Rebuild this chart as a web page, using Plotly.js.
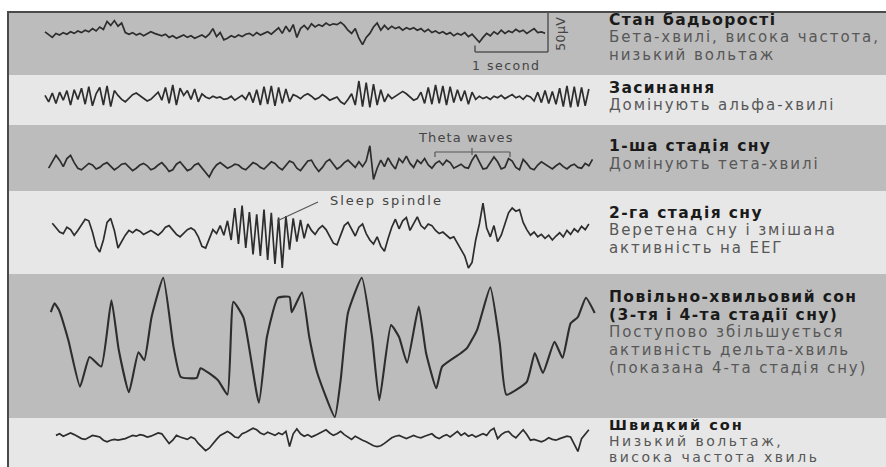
<!DOCTYPE html>
<html><head><meta charset="utf-8">
<script src="https://cdn.plot.ly/plotly-3.0.1.min.js"></script>
<style>html,body{margin:0;padding:0;background:#fff;overflow:hidden}#chart{width:886px;height:467px}</style>
</head><body><div id="chart"></div>
<script>
// ---------------- DATA ----------------
const stageTitles = [
  ["Стан бадьорості"],
  ["Засинання"],
  ["1-ша стадія сну"],
  ["2-га стадія сну"],
  ["Повільно-хвильовий сон", "(3-тя і 4-та стадії сну)"],
  ["Швидкий сон"]
];
const stageNotes = [
  ["Бета-хвилі, висока частота,", "низький вольтаж"],
  ["Домінують альфа-хвилі"],
  ["Домінують тета-хвилі"],
  ["Веретена сну і змішана", "активність на ЕЕГ"],
  ["Поступово збільшується", "активність дельта-хвиль", "(показана 4-та стадія сну)"],
  ["Низький вольтаж,", "висока частота хвиль"]
];
const thetaLabel = "Theta waves";
const spindleLabel = "Sleep spindle";
const scaleTimeLabel = "1 second";
const scaleAmpLabel = "50µV";
const scaleTime = 1;     // s
const scaleAmp = 50;     // µV

const sampleStep = 0.05; // s
const traceStart = [0, 0, 0.05, 0.1, null, 0.15]; // s

// wake (µV)
const wakeUv = [4,1,-3,2,0,3,1,4,2,5,
3,6,4,8,5,10,7,17,12,18,
11,15,3,1,3,0,2,-1,1,4,
2,0,-1,1,-3,-1,-4,-2,0,-3,
-1,-4,-2,0,-3,1,8,-2,3,-6,
-4,-1,-3,0,-2,1,2,-1,3,0,
2,4,1,5,9,2,11,4,13,-3,
8,12,7,14,10,13,11,15,12,14,
13,16,12,6,2,8,-4,-12,-3,2,
10,15,6,12,7,11,8,10,6,9,
7,9,6,8,4,7,3,5,2,4,
1,3,-1,2,0,3,-2,1,-4,-9,
-3,2,-1,4,1,6,2,5,3,7,
4,6,2,5,8,3,4,2];
// falling asleep (alpha)
const drowsyUv = [2,-6,5,-8,6,-4,8,-10,9,-3,
11,-9,13,-11,4,12,-10,14,-12,8,
2,-3,-6,-2,3,5,2,-2,-5,-3,
1,6,-4,12,-8,15,-10,11,2,8,
-3,10,-6,4,0,-2,1,-1,0,-3,
-2,1,-4,-1,2,-3,6,-7,9,-10,
13,-9,14,-11,12,-8,10,-6,3,1,
-2,2,4,1,-3,-1,3,0,-4,-2,
0,-6,-9,-3,4,-10,20,-12,18,-13,
16,-10,9,-6,3,-2,1,5,7,4,
0,-4,-2,6,-8,12,-9,15,-8,14,
-10,13,-7,9,-5,8,-9,6,-3,1,
-2,0,-3,1,-1,2,-2,0,3,-1,
1,-3,2,0,-5,6,-7,8,-8,7,
-9,11,-12,14,-13,13,-12,12,-11,10];
// stage 1 (theta)
const stage1Uv = [-4,4,12,6,-2,8,12,3,-4,-6,
-2,2,0,-5,-3,1,3,-2,-6,-3,
1,2,-3,-7,-4,0,2,-1,-6,-4,
0,3,-2,-8,-6,1,4,-1,-7,-5,
0,2,-4,-9,-15,-6,0,3,-1,-4,
-2,1,0,-4,-6,-1,3,1,-3,-5,
0,4,2,-3,-6,0,5,3,-4,-7,
-1,5,6,-2,-8,-3,4,7,1,-5,
-2,3,6,1,-3,4,-2,5,24,-18,
-4,6,-2,9,1,-5,8,3,11,2,
-3,6,2,8,0,-4,2,5,0,6,
3,-4,-2,1,-3,-4,6,13,4,-5,
-4,3,10,4,-5,-3,8,5,-3,-6,
7,2,-4,-6,0,4,1,-3,-5,-1,
2,-2,-5,-1,1,-3,-4,2,-1,7];
// stage 2 (spindles, K-complexes)
const stage2Uv = [11,5,0,-2,6,3,-4,2,9,
16,14,0,-18,-25,-10,12,17,2,
-20,-12,-4,2,-1,3,1,-3,0,2,
-1,-4,0,6,8,2,-3,-6,-2,3,
5,2,-6,-18,-20,-8,3,-2,8,-4,
14,-10,30,-15,33,-20,25,-28,22,-30,
28,-35,24,-40,18,-45,20,-22,17,-12,
15,-8,10,2,-3,4,8,3,-6,-14,
-16,-4,8,12,3,-5,6,10,-2,-10,
-15,-6,-18,-24,-8,6,16,4,14,18,
2,10,19,8,4,10,8,2,-2,0,
-4,-8,-6,-14,-22,-30,-45,-38,-10,10,
36,5,-6,8,-12,-4,10,24,30,26,
28,12,3,-4,0,-6,-3,-8,-4,-10,
-5,-1,-6,2,-3,4,0,7,3,10];
// slow-wave sleep (delta), vertices
const swsT = [0.08,0.13,0.19,0.32,0.48,0.61,0.77,0.91,1.01,1.15,1.28,1.36,1.46,1.62,1.76,1.86,2.08,2.13,2.37,2.5,2.58,2.72,2.93,3.04,3.19,3.35,3.38,3.52,3.62,3.73,3.97,4.05,4.15,4.34,4.48,4.58,4.74,4.85,4.96,5.12,5.22,5.36,5.44,5.7,5.78,5.92,6.1,6.23,6.32,6.6,6.71,6.82,6.98,7.09,7.2,7.3,7.41,7.53];
const swsUv = [41,52,44,6,-52,-15,-27,56,-6,-59,-9,-19,35,84,-2,-40,-41,-29,-44,-62,54,34,-72,10,59,60,41,66,10,-35,-90,-44,40,84,10,-69,25,10,-22,48,-10,-54,-27,-10,-4,19,72,2,-62,-46,-10,-35,4,-16,27,35,59,40];
// REM
const remUv = [2,4,1,3,5,3,0,-2,-3,0,
2,1,0,-4,-6,-4,-3,-4,-3,-2,
0,2,1,3,2,0,1,3,5,4,
-2,-8,-4,2,0,-2,-3,0,-2,-8,
-12,-17,-14,-8,-3,2,4,7,4,0,
-1,4,6,8,11,9,5,3,6,4,
2,5,3,7,-12,4,10,4,1,3,
0,2,4,6,9,5,2,4,7,3,
0,-3,1,-2,-4,-6,-9,-11,-12,-11,
-8,-4,-1,1,2,0,-2,0,2,0,
-1,1,3,4,0,-2,1,3,0,4,
7,2,5,1,3,0,2,4,2,8,
11,-2,3,6,7,2,-1,4,9,3,
-4,-3,-5,-6,-4,-1,-3,-4,-2,0,
1,0,-10,-18,-2,3,9];

// ---------------- LAYOUT ----------------
const W = 886, H = 467;
const PX_PER_S = 73, T0_PX = 45, PX_PER_UV = 0.8;
const DARK = '#bcbcbc', LIGHT = '#e7e7e7';
const BANDS = [
  {top:12,  bottom:75,  base:35,  fill:DARK,  textY:20,  gap:17.5, tSize:15.5, nSize:15, tLs:1.4, nLs:1.9},
  {top:75,  bottom:125, base:97,  fill:LIGHT, textY:88,  gap:17,   tSize:15.5, nSize:15, tLs:1.4, nLs:1.9},
  {top:125, bottom:191, base:165, fill:DARK,  textY:146, gap:17.5, tSize:15.5, nSize:15, tLs:1.4, nLs:1.9},
  {top:191, bottom:274, base:232, fill:LIGHT, textY:213, gap:17.5, tSize:15.5, nSize:15, tLs:1.4, nLs:1.9},
  {top:274, bottom:418, base:345, fill:DARK,  textY:297, gap:17.7, tSize:15.5, nSize:15, tLs:1.4, nLs:1.9},
  {top:418, bottom:467, base:437, fill:LIGHT, textY:425, gap:16.2, tSize:14.5, nSize:14, tLs:2.0, nLs:2.5}
];
const TEXT_X = 607;
const FONT = 'DejaVu Sans, Verdana, sans-serif';
const px = v => v / W;
const py = v => 1 - v / H;

const signals = [wakeUv, drowsyUv, stage1Uv, stage2Uv, swsUv, remUv];
const traces = signals.map((vals, i) => {
  const tr = {
    type: 'scatter', mode: 'lines', y: vals,
    xaxis: 'x', yaxis: i === 0 ? 'y' : 'y' + (i + 1),
    line: {color: '#2d2d2d', width: i === 4 ? 2.1 : 1.7, shape: i === 4 ? 'spline' : 'linear', smoothing: 0.45},
    hoverinfo: 'skip', showlegend: false
  };
  if (i === 4) { tr.x = swsT; } else { tr.x0 = traceStart[i]; tr.dx = sampleStep; }
  return tr;
});

const layout = {
  width: W, height: H, margin: {l:0, r:0, t:0, b:0, pad:0},
  paper_bgcolor: '#ffffff', plot_bgcolor: 'rgba(0,0,0,0)',
  showlegend: false,
  xaxis: {domain:[0,1], range:[-T0_PX / PX_PER_S, (W - T0_PX) / PX_PER_S], visible:false, fixedrange:true},
  shapes: [], annotations: []
};
BANDS.forEach((b, i) => {
  const key = i === 0 ? 'yaxis' : 'yaxis' + (i + 1);
  layout[key] = {
    domain: [1 - b.bottom / H, 1 - b.top / H],
    range: [-(b.bottom - b.base) / PX_PER_UV, (b.base - b.top) / PX_PER_UV],
    visible: false, fixedrange: true, anchor: 'x'
  };
  layout.shapes.push({type:'rect', xref:'paper', yref:'paper', x0:px(8), x1:1, y0:py(b.bottom), y1:py(b.top),
    fillcolor:b.fill, line:{width:0}, layer:'below'});
});
// frame
const FRAME = '#4a4a4a';
layout.shapes.push({type:'line', xref:'paper', yref:'paper', x0:px(8), x1:px(8), y0:py(11), y1:0, line:{color:FRAME, width:2}});
layout.shapes.push({type:'line', xref:'paper', yref:'paper', x0:px(8), x1:1, y0:py(12), y1:py(12), line:{color:FRAME, width:2}});

// scale bar (data coordinates of the wake panel)
const sbX1 = (548 - T0_PX) / PX_PER_S, sbX0 = sbX1 - scaleTime;
const sbYTop = (BANDS[0].base - BANDS[0].top) / PX_PER_UV, sbY0 = sbYTop - scaleAmp;
const SB = {color:'#555', width:1.5};
layout.shapes.push({type:'line', xref:'x', yref:'y', x0:sbX1, x1:sbX1, y0:sbY0, y1:sbYTop, line:SB});
layout.shapes.push({type:'line', xref:'x', yref:'y', x0:sbX0, x1:sbX1, y0:sbY0, y1:sbY0, line:SB});
layout.shapes.push({type:'line', xref:'x', yref:'y', x0:sbX0, x1:sbX0, y0:sbY0, y1:sbY0 + 8, line:SB});

// theta bracket
const BR = {color:'#555', width:1.2};
layout.shapes.push({type:'line', xref:'paper', yref:'paper', x0:px(435), x1:px(510), y0:py(152), y1:py(152), line:BR});
layout.shapes.push({type:'line', xref:'paper', yref:'paper', x0:px(435), x1:px(435), y0:py(152), y1:py(157), line:BR});
layout.shapes.push({type:'line', xref:'paper', yref:'paper', x0:px(510), x1:px(510), y0:py(152), y1:py(157), line:BR});
layout.shapes.push({type:'line', xref:'paper', yref:'paper', x0:px(472), x1:px(472), y0:py(148), y1:py(155), line:BR});
// spindle pointer
layout.shapes.push({type:'line', xref:'paper', yref:'paper', x0:px(318), x1:px(277), y0:py(202), y1:py(221), line:{color:'#555', width:1.2}});

const spacing = [];
function addText(text, x, y, size, color, bold, ls) {
  layout.annotations.push({
    text: bold ? '<b>' + text + '</b>' : text,
    xref:'paper', yref:'paper', x:px(x), y:py(y), xanchor:'left', yanchor:'middle', align:'left',
    showarrow:false, font:{family:FONT, size:size, color:color}
  });
  spacing.push(ls);
}
BANDS.forEach((b, i) => {
  let y = b.textY;
  stageTitles[i].forEach(t => { addText(t, TEXT_X, y, b.tSize, '#1a1a1a', true, b.tLs); y += b.gap; });
  stageNotes[i].forEach(t => { addText(t, TEXT_X, y, b.nSize, '#575757', false, b.nLs); y += b.gap; });
});
addText(thetaLabel, 416, 137, 13, '#444', false, 1.1);
addText(spindleLabel, 328, 200, 13, '#444', false, 2.0);
addText(scaleTimeLabel, 470, 66, 12.5, '#444', false, 1.5);
layout.annotations.push({text:scaleAmpLabel, xref:'paper', yref:'paper', x:px(560), y:py(34),
  xanchor:'center', yanchor:'middle', showarrow:false, textangle:-90, font:{family:FONT, size:12.5, color:'#444'}});
spacing.push(0.4);

Plotly.newPlot('chart', traces, layout, {staticPlot:true, displayModeBar:false}).then(() => {
  document.querySelectorAll('#chart g.annotation').forEach(g => {
    const idx = +g.getAttribute('data-index');
    const t = g.querySelector('text');
    if (t && spacing[idx]) t.style.letterSpacing = spacing[idx] + 'px';
  });
});
</script>
</body></html>
